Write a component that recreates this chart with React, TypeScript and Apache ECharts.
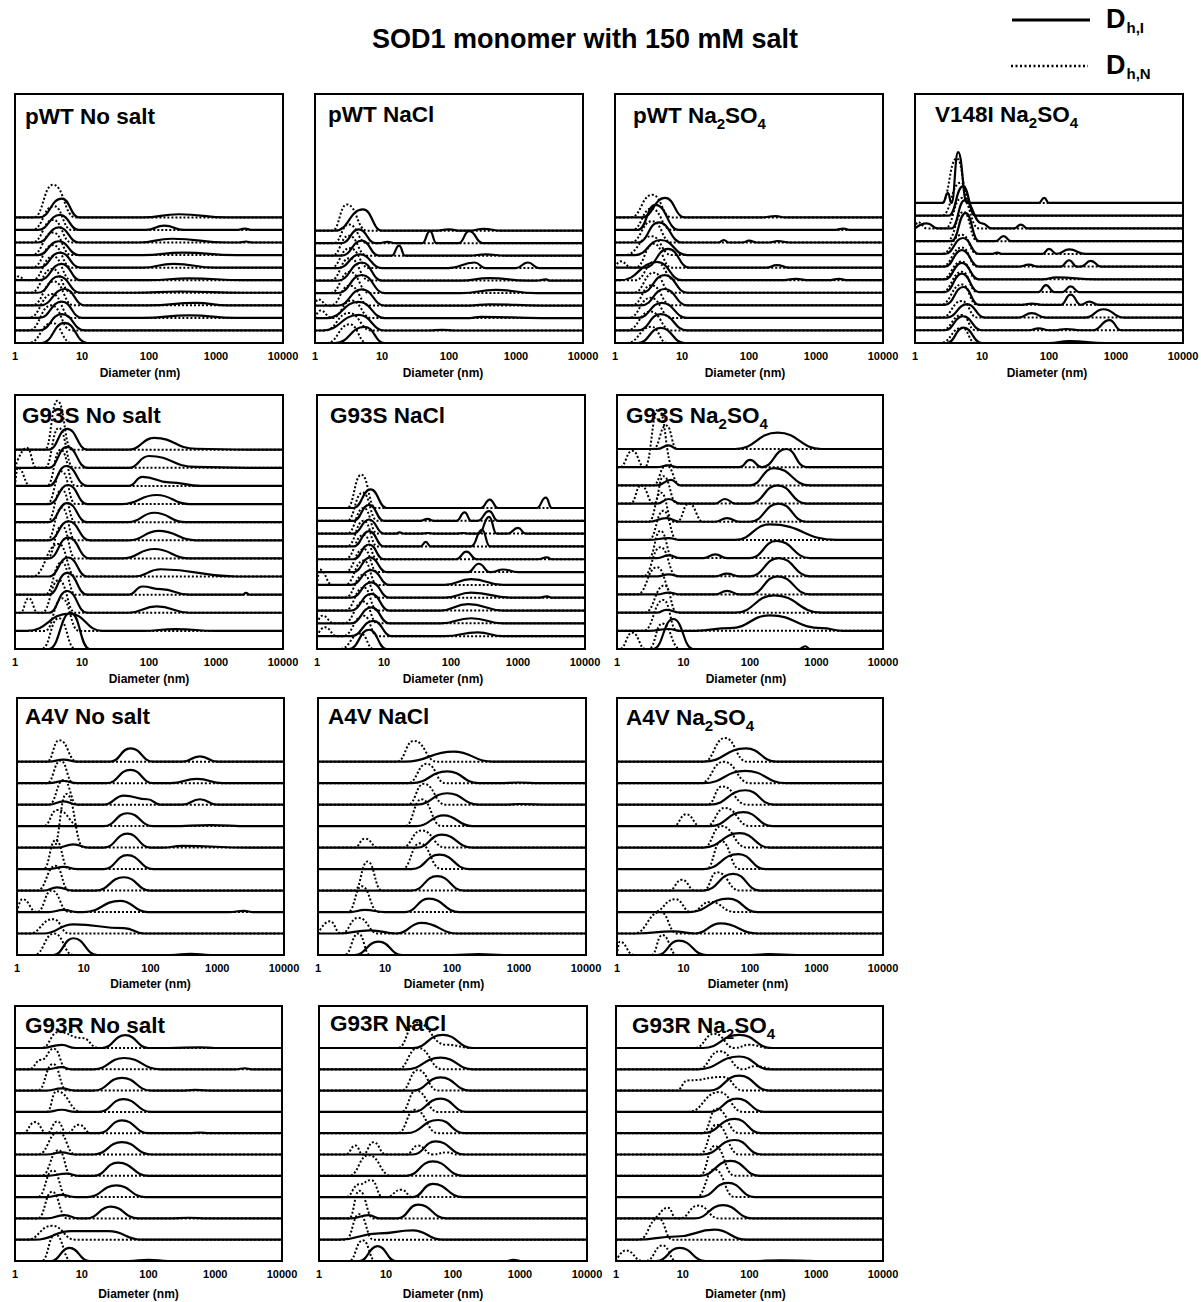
import React, { useEffect, useRef } from "react";
import * as echarts from "echarts";

// A peak is [left foot (nm), apex (nm), right foot (nm), apex height in trace spacings].
// Each panel lists its traces from the bottom trace upward.
type Peak = [number, number, number, number];
type Trace = Peak[];

const D_MIN = 1;
const D_MAX = 10000;
const tickLabels = ["1", "10", "100", "1000", "10000"];
const axisTitle = "Diameter (nm)";
const chartTitle = "SOD1 monomer with 150 mM salt";
const legendSolid = "{d|D}{s|h,I}";
const legendDotted = "{d|D}{s|h,N}";

// ---- pWT, no salt ----
const pwtNoSaltI: Trace[] = [
  [[2.5, 5.5, 12, 1.6]],
  [[2.3, 5, 11, 1.3]],
  [[2.3, 5, 10, 1.3], [80, 400, 2000, 0.2]],
  [[2.4, 5.5, 11, 1.3], [100, 500, 1500, 0.2]],
  [[2.2, 4.5, 9.5, 1.3], [60, 300, 2500, 0.1]],
  [[2.3, 5, 9.5, 1.3], [100, 400, 2500, 0.15]],
  [[2.3, 4.7, 9.5, 1.2], [80, 230, 1000, 0.3]],
  [[2.2, 4.5, 9, 1.1], [80, 320, 2000, 0.2]],
  [[2.2, 4.5, 9, 1.2], [70, 220, 1500, 0.3], [2200, 2800, 3500, 0.08]],
  [[2.2, 4.7, 9, 1.2], [90, 170, 330, 0.35], [2000, 2700, 3500, 0.1]],
  [[2.3, 5, 9, 1.5], [80, 280, 1500, 0.25]],
];
const pwtNoSaltN: Trace[] = [
  [[1.6, 3.6, 7, 1.6]],
  [[1.6, 3.5, 7, 2.0]],
  [[1.6, 3.6, 7, 1.9]],
  [[1.8, 3.8, 7.5, 1.9]],
  [[1.7, 3.6, 7, 1.9]],
  [[1, 1.1, 1.5, 0.3], [1.8, 3.7, 7, 1.9]],
  [[1.8, 3.7, 7, 1.8]],
  [[1.8, 3.7, 7, 1.8]],
  [[1.8, 3.7, 7, 1.8]],
  [[1.8, 3.8, 7, 1.9]],
  [[1.9, 3.7, 8, 2.6]],
];

// ---- pWT, NaCl ----
const pwtNaClI: Trace[] = [
  [[2, 5.5, 11, 1.3]],
  [[1.3, 4.5, 11, 1.25], [50, 80, 120, 0.05]],
  [[1.5, 4.5, 11, 1.3], [200, 300, 2500, 0.1]],
  [[2.2, 5, 11, 1.3], [200, 400, 2500, 0.1]],
  [[2.2, 5, 11, 1.45], [150, 500, 2000, 0.25]],
  [[2.2, 5, 10, 1.45], [150, 400, 1500, 0.2], [2000, 2800, 3200, 0.1]],
  [[2.2, 4.7, 10, 1.1], [100, 240, 350, 0.45], [1000, 1500, 2200, 0.45]],
  [[2.5, 5, 9, 1.2], [14, 18, 22, 0.8], [200, 350, 700, 0.1]],
  [[2.5, 4.5, 8, 1.1], [9, 12, 16, 0.1], [40, 52, 65, 0.96], [140, 200, 320, 0.96]],
  [[2, 5.2, 10, 1.7], [60, 100, 150, 0.1], [200, 330, 600, 0.15]],
];
const pwtNaClN: Trace[] = [
  [[1.5, 3.3, 6, 1.5]],
  [[1.4, 3.2, 7, 1.4]],
  [[1, 1.2, 1.8, 0.6], [1.8, 3.5, 7, 1.4]],
  [[1, 1.1, 1.6, 0.5], [1.7, 3.3, 6.5, 1.6]],
  [[1.7, 3.3, 6.5, 1.7]],
  [[1.7, 3.3, 6.5, 1.8]],
  [[1.7, 3.3, 6.5, 1.6]],
  [[1.8, 3.2, 6, 1.6]],
  [[1.9, 3.2, 6, 1.5]],
  [[1.8, 3, 6, 2.1]],
];

// ---- pWT, Na2SO4 ----
const pwtSulfI: Trace[] = [
  [[2.2, 4.8, 11, 1.2]],
  [[2.2, 4.8, 12, 1.3]],
  [[2.2, 5, 12, 1.2]],
  [[2.5, 5.5, 12, 1.3]],
  [[2.5, 5.5, 12, 1.4]],
  [[1.2, 4.3, 10, 1.45], [300, 500, 800, 0.1], [1500, 2200, 3000, 0.1]],
  [[2.8, 6.2, 13, 1.5], [180, 260, 400, 0.2]],
  [[2, 4.8, 12, 1.2]],
  [[2.2, 4.5, 10, 1.6], [35, 42, 50, 0.2], [80, 100, 130, 0.15], [200, 270, 400, 0.12]],
  [[2.2, 4, 9, 2.0], [1800, 2600, 3200, 0.1]],
  [[2.5, 5.6, 11, 1.55], [150, 250, 350, 0.1]],
];
const pwtSulfN: Trace[] = [
  [[1.5, 3.5, 6, 1.3]],
  [[1.5, 3.4, 7, 1.5]],
  [[1.6, 3.4, 7, 1.6]],
  [[1.8, 3.5, 7, 1.6]],
  [[1.9, 3.8, 7, 1.6]],
  [[2, 4, 8, 1.5]],
  [[1, 1.2, 1.8, 0.5], [2, 3.8, 7, 1.9]],
  [[1.4, 3.5, 7, 1.5]],
  [[1.7, 3.6, 7, 1.7]],
  [[1.8, 3.5, 7, 1.7]],
  [[1.7, 3.6, 7, 1.8]],
];

// ---- V148I, Na2SO4 ----
const v148iSulfI: Trace[] = [
  [[3, 5.3, 10, 1.2], [100, 200, 700, 0.15]],
  [[2.8, 5.2, 10, 1.1], [50, 70, 100, 0.15], [120, 180, 300, 0.1], [450, 800, 1200, 0.8]],
  [[3, 6, 11, 1.05], [35, 55, 90, 0.35], [350, 650, 1300, 0.65]],
  [[2.8, 5.3, 9, 1.4], [40, 55, 80, 0.1], [150, 210, 300, 0.8], [300, 400, 550, 0.25]],
  [[2.8, 5, 9, 1.45], [70, 90, 120, 0.55], [160, 210, 280, 0.45]],
  [[2.8, 5, 9, 1.3], [80, 130, 500, 0.15]],
  [[2.8, 5, 9, 1.3], [35, 50, 70, 0.15], [150, 200, 260, 0.5], [300, 420, 600, 0.45]],
  [[2.8, 5.2, 9, 1.25], [14, 17, 20, 0.1], [80, 100, 130, 0.4], [130, 200, 350, 0.35]],
  [[3.5, 5.7, 9, 2.2], [16, 21, 27, 0.4]],
  [[1, 1.5, 2.2, 0.4], [3.5, 5.5, 9, 2.2], [8, 10, 14, 0.4], [30, 38, 48, 0.3]],
  [[3.2, 5.2, 8, 2.3]],
  [[2.6, 3.1, 3.5, 0.8], [3.5, 4.4, 6, 4.0], [70, 85, 100, 0.4]],
];
const v148iSulfN: Trace[] = [
  [[2.4, 5, 8, 1.2]],
  [[2.5, 5, 8, 1.2]],
  [[2.5, 5, 8.5, 1.3]],
  [[2.4, 5, 8.5, 1.6]],
  [[2.5, 5, 8.5, 1.6]],
  [[2.5, 5, 8.5, 1.4]],
  [[2.5, 5, 8.5, 1.5]],
  [[2.5, 5, 8.5, 1.5]],
  [[3, 5.3, 8.5, 2.3]],
  [[1, 1.1, 1.5, 0.5], [2.8, 5, 9, 2.4]],
  [[2.5, 4.8, 8, 2.6]],
  [[2.5, 4.2, 6.5, 3.5]],
];

// ---- G93S, no salt ----
const g93sNoSaltI: Trace[] = [
  [[3.2, 6.8, 13, 2.0]],
  [[1.5, 6.5, 20, 0.95], [80, 250, 1000, 0.1]],
  [[3.2, 6, 12, 1.2], [50, 130, 400, 0.35]],
  [[3.2, 6, 12, 1.2], [50, 80, 110, 0.45], [100, 150, 400, 0.3], [2500, 2800, 3200, 0.1]],
  [[3.2, 6.2, 12, 1.05], [60, 150, 2000, 0.4]],
  [[3.2, 6.2, 13, 1.15], [40, 120, 400, 0.52]],
  [[3.2, 6.3, 13, 1.05], [50, 140, 500, 0.52]],
  [[3.2, 6, 12, 1.05], [50, 120, 350, 0.52]],
  [[3.2, 6.2, 12, 1.05], [40, 130, 400, 0.5]],
  [[3.2, 5.8, 12, 1.1], [50, 80, 120, 0.5], [100, 200, 600, 0.2]],
  [[3.2, 6, 12, 1.15], [50, 100, 200, 0.65], [150, 500, 3000, 0.05]],
  [[3.2, 6, 12, 1.15], [50, 120, 200, 0.65], [180, 500, 3000, 0.05]],
];
const g93sNoSaltN: Trace[] = [
  [[2.5, 4.5, 8, 1.7]],
  [[2.8, 5, 9, 1.8]],
  [[1.2, 1.6, 2.2, 0.8], [2.5, 4.5, 8, 1.8]],
  [[2.8, 5, 8, 1.8]],
  [[1.8, 4.5, 8, 1.8]],
  [[3, 5, 8, 1.8]],
  [[3, 5, 8, 1.8]],
  [[3, 5, 8, 1.8]],
  [[3, 5, 8, 1.8]],
  [[1, 1.1, 1.7, 1.0], [3, 4.8, 8, 2.0]],
  [[1, 1.5, 2.1, 1.1], [2.8, 4.5, 7.5, 2.2]],
  [[2.8, 4.3, 7, 2.7]],
];

// ---- G93S, NaCl ----
const g93sNaClI: Trace[] = [
  [[3, 6, 11, 1.5]],
  [[3.2, 7, 13, 1.2], [80, 250, 600, 0.3]],
  [[3.2, 6.5, 12, 1.25], [70, 200, 600, 0.4]],
  [[3.2, 6.5, 12, 1.3], [70, 180, 600, 0.5]],
  [[3.2, 6.5, 12, 1.2], [80, 200, 800, 0.4], [2000, 2700, 3200, 0.1]],
  [[3.2, 6.5, 12, 1.15], [80, 200, 600, 0.45]],
  [[3.5, 6.2, 11, 1.15], [180, 260, 380, 0.65], [400, 600, 1000, 0.2]],
  [[3.5, 6, 10, 1.15], [120, 170, 240, 0.6], [2000, 2700, 3200, 0.15]],
  [[3.5, 6, 10, 1.2], [35, 42, 50, 0.35], [200, 290, 380, 1.3]],
  [[3.5, 6, 10, 1.1], [15, 17, 20, 0.1], [35, 45, 55, 0.05], [120, 150, 180, 0.05], [260, 370, 480, 1.3], [700, 1000, 1300, 0.45]],
  [[3.5, 6, 10, 1.25], [35, 45, 55, 0.15], [120, 160, 200, 0.65], [250, 370, 500, 0.75]],
  [[3.5, 6.3, 11, 1.45], [280, 380, 500, 0.65], [1900, 2600, 3200, 0.8]],
];
const g93sNaClN: Trace[] = [
  [[2.2, 4.5, 7, 1.2]],
  [[1, 1.3, 2, 0.7], [2.4, 5, 8, 1.6]],
  [[1, 1.2, 1.8, 0.6], [2.5, 5, 8, 1.7]],
  [[2.6, 5, 8, 1.8]],
  [[2.6, 5, 8, 1.8]],
  [[1, 1.1, 1.7, 1.2], [2.6, 5, 8, 1.9]],
  [[2.6, 5, 8, 1.8]],
  [[2.6, 5, 8, 1.9]],
  [[2.8, 5, 8, 2.0]],
  [[2.8, 5, 8, 2.0]],
  [[2.8, 4.8, 8, 2.2]],
  [[2.8, 4.6, 7.5, 2.6]],
];

// ---- G93S, Na2SO4 ----
const g93sSulfI: Trace[] = [
  [[3.5, 7, 14, 1.65], [550, 680, 800, 0.15]],
  [[3, 6, 9, 0.1], [15, 50, 100, 0.15], [60, 200, 600, 0.85], [500, 1200, 2500, 0.15]],
  [[4, 5.5, 9, 0.15], [60, 230, 1200, 0.95]],
  [[4, 6, 9, 0.1], [30, 45, 70, 0.2], [100, 260, 800, 1.0]],
  [[4, 6, 9, 0.1], [30, 45, 70, 0.15], [100, 270, 800, 1.0]],
  [[4, 6, 9, 0.15], [20, 30, 45, 0.2], [100, 250, 800, 0.95]],
  [[3, 6, 9, 0.1], [60, 200, 2000, 0.85]],
  [[3, 5.5, 9, 0.2], [30, 45, 70, 0.2], [100, 270, 700, 1.0]],
  [[4, 6, 9, 0.25], [30, 42, 60, 0.25], [100, 260, 700, 1.0]],
  [[4, 6.5, 9, 0.3], [100, 230, 800, 0.95]],
  [[4, 6, 8, 0.1], [70, 100, 150, 0.4], [150, 350, 700, 1.0]],
  [[4, 6, 8, 0.2], [60, 260, 1200, 0.9]],
];
const g93sSulfN: Trace[] = [
  [[1.1, 1.7, 2.7, 0.9], [3, 4.8, 9, 1.4]],
  [[2.5, 5, 8, 1.7]],
  [[2.6, 5.2, 8, 1.5]],
  [[2, 4, 7, 1.5]],
  [[2.5, 4.5, 8, 1.6]],
  [[3, 4.5, 7, 1.5]],
  [[3, 5, 8, 1.6]],
  [[3, 4.6, 7, 1.6], [8, 12, 20, 1.0]],
  [[1.6, 2.3, 3.6, 1.0], [3.6, 5, 8, 1.5]],
  [[3.5, 5.5, 9, 1.1]],
  [[1.1, 1.7, 2.6, 0.9], [2.6, 4.2, 7, 3.2]],
  [[3.5, 5.5, 8, 1.3]],
];

// ---- A4V, no salt ----
const a4vNoSaltI: Trace[] = [
  [[3.5, 7, 16, 0.78], [200, 400, 800, 0.05]],
  [[2.5, 7, 25, 0.43], [20, 40, 80, 0.25]],
  [[3, 5, 8, 0.1], [10, 35, 90, 0.52], [1500, 2500, 3500, 0.05]],
  [[2.5, 4, 7, 0.15], [15, 40, 100, 0.62]],
  [[3, 5, 8, 0.1], [20, 45, 110, 0.65]],
  [[4, 7, 12, 0.15], [20, 45, 100, 0.65], [150, 300, 3000, 0.08]],
  [[20, 45, 110, 0.6], [200, 800, 3000, 0.05]],
  [[3, 5, 8, 0.15], [20, 40, 60, 0.42], [50, 90, 140, 0.25], [300, 550, 1000, 0.25]],
  [[3, 5, 8, 0.1], [22, 50, 110, 0.62], [200, 500, 1200, 0.2]],
  [[3, 5, 8, 0.1], [25, 50, 110, 0.62], [300, 550, 1000, 0.25]],
];
const a4vNoSaltN: Trace[] = [
  [[1.8, 3.6, 7, 1.0]],
  [[1.5, 3.5, 6, 0.67]],
  [[1, 1.2, 2, 0.6], [2, 3.3, 6, 1.0]],
  [[2, 3.8, 6, 1.15]],
  [[2.5, 3.8, 6, 1.35]],
  [[3.5, 5.5, 10, 2.5]],
  [[2.5, 4, 9, 0.75]],
  [[3, 5, 8, 1.15]],
  [[2.8, 4.5, 7, 1.05]],
  [[2.8, 4.3, 8, 1.0]],
];

// ---- A4V, NaCl ----
const a4vNaClI: Trace[] = [
  [[3.5, 8, 18, 0.62], [100, 250, 600, 0.04]],
  [[2, 6, 15, 0.15], [15, 35, 120, 0.5]],
  [[3, 5, 10, 0.1], [20, 45, 130, 0.62]],
  [[25, 60, 150, 0.67]],
  [[25, 65, 180, 0.67]],
  [[30, 70, 200, 0.6]],
  [[30, 75, 200, 0.5]],
  [[30, 85, 250, 0.53], [600, 1000, 3000, 0.03]],
  [[25, 85, 250, 0.55], [500, 1000, 2000, 0.03]],
  [[20, 105, 400, 0.47]],
];
const a4vNaClN: Trace[] = [
  [[2.5, 4, 6, 1.0]],
  [[1, 1.5, 2.2, 0.57], [2.2, 4, 8, 0.73]],
  [[2.8, 4.5, 8, 1.2]],
  [[3.5, 5.5, 9, 1.35]],
  [[18, 33, 70, 1.2]],
  [[3.5, 5, 8, 0.42], [18, 35, 80, 0.8]],
  [[20, 35, 70, 1.25]],
  [[22, 38, 80, 0.97]],
  [[22, 42, 80, 0.9]],
  [[15, 27, 60, 0.97]],
];

// ---- A4V, Na2SO4 ----
const a4vSulfI: Trace[] = [
  [[4, 8.5, 22, 0.67], [100, 200, 500, 0.04]],
  [[2, 7, 15, 0.1], [15, 36, 130, 0.47]],
  [[12, 47, 130, 0.62]],
  [[20, 56, 140, 0.78]],
  [[20, 67, 170, 0.7]],
  [[20, 70, 200, 0.67]],
  [[25, 80, 220, 0.65]],
  [[25, 85, 230, 0.67]],
  [[20, 85, 350, 0.57]],
  [[20, 87, 250, 0.62]],
];
const a4vSulfN: Trace[] = [
  [[1, 1.1, 1.8, 0.62], [3.3, 4.8, 8, 0.93]],
  [[1.8, 4.5, 8, 1.0]],
  [[3.5, 7.5, 13, 0.6], [13, 25, 60, 0.47]],
  [[6, 9.5, 15, 0.5], [20, 32, 70, 0.85]],
  [[22, 37, 70, 1.3]],
  [[20, 37, 90, 1.0]],
  [[7, 11, 18, 0.55], [22, 42, 100, 0.85]],
  [[23, 38, 90, 0.85]],
  [[18, 40, 100, 1.0]],
  [[20, 42, 90, 1.1]],
];

// ---- G93R, no salt ----
const g93rNoSaltI: Trace[] = [
  [[3.5, 6.5, 13, 0.62], [50, 100, 200, 0.05]],
  [[2, 7, 15, 0.4], [12, 25, 80, 0.4]],
  [[3, 5.5, 9, 0.15], [12, 27, 70, 0.55], [200, 400, 800, 0.03]],
  [[3, 5, 8, 0.1], [12, 33, 90, 0.55]],
  [[3, 6, 9, 0.1], [15, 35, 100, 0.62]],
  [[3, 5, 8, 0.1], [15, 40, 110, 0.58]],
  [[18, 40, 100, 0.6], [400, 600, 800, 0.03]],
  [[3, 5, 8, 0.1], [18, 42, 110, 0.6]],
  [[3, 5, 8, 0.1], [15, 40, 110, 0.6], [300, 500, 1000, 0.03]],
  [[3, 5, 7, 0.1], [15, 43, 150, 0.53], [2000, 2800, 3500, 0.05]],
  [[2.5, 5, 8, 0.15], [20, 45, 100, 0.6], [200, 600, 1000, 0.03]],
];
const g93rNoSaltN: Trace[] = [
  [[2.5, 4, 7, 1.25]],
  [[1.5, 3.6, 8, 0.65]],
  [[2.2, 3.6, 6, 1.25]],
  [[2.2, 3.7, 6, 1.25]],
  [[2.5, 4.5, 7, 1.2]],
  [[2.2, 4.5, 8, 1.05]],
  [[1.3, 2, 3, 0.52], [3, 4.3, 6, 0.55], [6, 9, 14, 0.4]],
  [[3, 4.2, 10, 0.97]],
  [[2.2, 3.7, 6, 1.25]],
  [[1.6, 2.5, 3, 0.45], [2.5, 3.8, 6, 0.97]],
  [[2.5, 4.5, 7, 0.75], [6, 10, 18, 0.47]],
];

// ---- G93R, NaCl ----
const g93rNaClI: Trace[] = [
  [[4, 7.5, 14, 0.7], [600, 800, 1100, 0.05]],
  [[2, 8, 15, 0.3], [12, 25, 70, 0.44]],
  [[3, 5.5, 8, 0.15], [15, 30, 80, 0.65]],
  [[25, 50, 140, 0.62]],
  [[20, 50, 140, 0.68]],
  [[25, 55, 150, 0.62]],
  [[20, 60, 150, 0.62]],
  [[25, 65, 160, 0.62]],
  [[25, 65, 180, 0.62]],
  [[20, 65, 200, 0.55]],
  [[25, 70, 200, 0.62]],
];
const g93rNaClN: Trace[] = [
  [[2.8, 4.5, 7, 0.97]],
  [[2.5, 4, 6.5, 1.2]],
  [[2.8, 4, 6.5, 1.3]],
  [[2.5, 4, 5.5, 0.6], [3.5, 6, 9, 0.8], [10, 17, 25, 0.35]],
  [[2.8, 5.5, 12, 0.97]],
  [[2.5, 3.5, 4.5, 0.42], [4.5, 6.5, 10, 0.58], [20, 30, 50, 0.42], [50, 80, 120, 0.1]],
  [[15, 27, 60, 1.1]],
  [[17, 28, 60, 1.0]],
  [[17, 30, 60, 0.97]],
  [[15, 30, 70, 1.0]],
  [[15, 28, 60, 1.2], [50, 80, 200, 0.15]],
];

// ---- G93R, Na2SO4 ----
const g93rSulfI: Trace[] = [
  [[4, 9, 22, 0.62], [100, 300, 1000, 0.03]],
  [[2, 8, 15, 0.15], [10, 30, 90, 0.47]],
  [[15, 40, 110, 0.62]],
  [[18, 48, 120, 0.67]],
  [[18, 52, 140, 0.7]],
  [[20, 60, 150, 0.68]],
  [[20, 60, 150, 0.67]],
  [[25, 65, 170, 0.62]],
  [[25, 70, 200, 0.7]],
  [[17, 70, 200, 0.6]],
  [[20, 70, 220, 0.62]],
];
const g93rSulfN: Trace[] = [
  [[1, 1.4, 2.5, 0.5], [2.8, 5, 8, 0.73]],
  [[2.2, 4.3, 7, 1.0]],
  [[3.5, 6, 8, 0.5], [9, 17, 35, 0.6]],
  [[16, 30, 60, 1.3]],
  [[18, 30, 60, 1.4]],
  [[18, 32, 70, 1.4]],
  [[20, 32, 70, 1.15]],
  [[12, 35, 80, 0.93]],
  [[8, 12, 17, 0.48], [15, 40, 80, 0.64]],
  [[17, 36, 80, 0.85], [80, 120, 250, 0.15]],
  [[15, 30, 60, 0.67], [60, 100, 200, 0.15]],
];

const panels = [
  { title: "{t|pWT No salt}", intensity: pwtNoSaltI, number: pwtNoSaltN },
  { title: "{t|pWT NaCl}", intensity: pwtNaClI, number: pwtNaClN },
  { title: "{t|pWT Na}{s|2}{t|SO}{s|4}", intensity: pwtSulfI, number: pwtSulfN },
  { title: "{t|V148I Na}{s|2}{t|SO}{s|4}", intensity: v148iSulfI, number: v148iSulfN },
  { title: "{t|G93S No salt}", intensity: g93sNoSaltI, number: g93sNoSaltN },
  { title: "{t|G93S NaCl}", intensity: g93sNaClI, number: g93sNaClN },
  { title: "{t|G93S Na}{s|2}{t|SO}{s|4}", intensity: g93sSulfI, number: g93sSulfN },
  { title: "{t|A4V No salt}", intensity: a4vNoSaltI, number: a4vNoSaltN },
  { title: "{t|A4V NaCl}", intensity: a4vNaClI, number: a4vNaClN },
  { title: "{t|A4V Na}{s|2}{t|SO}{s|4}", intensity: a4vSulfI, number: a4vSulfN },
  { title: "{t|G93R No salt}", intensity: g93rNoSaltI, number: g93rNoSaltN },
  { title: "{t|G93R NaCl}", intensity: g93rNaClI, number: g93rNaClN },
  { title: "{t|G93R Na}{s|2}{t|SO}{s|4}", intensity: g93rSulfI, number: g93rSulfN },
];

// Page layout: plot box [left, top, width, height], trace spacing (px), title corner,
// horizontal shift of the axis title and its gap below the axis.
const panelBoxes = [
  [15, 94, 268, 249], [315, 94, 268, 249], [615, 94, 268, 249], [915, 94, 268, 249],
  [15, 395, 268, 254], [317, 395, 268, 254], [617, 395, 266, 254],
  [17, 698, 267, 257], [318, 698, 268, 257], [617, 698, 266, 257],
  [15, 1006, 267, 255], [319, 1006, 268, 255], [616, 1006, 267, 255],
];
const traceSpacing = [12.56, 12.48, 12.56, 12.73, 18.12, 12.82, 18.18, 21.48, 21.48, 21.48, 21.3, 21.3, 21.3];
const titleSpots = [
  [25, 105], [328, 103], [633, 104], [935, 103],
  [22, 404], [330, 404], [626, 404],
  [25, 705], [328, 705], [626, 706],
  [25, 1014], [330, 1012], [632, 1014],
];
const nameShift = [-9, -6, -4, -2, 0, -8, -4, 0, -8, -2, -10, -10, -4];
const nameGaps = [24, 24, 24, 24, 24, 24, 24, 23, 23, 23, 27, 27, 27];

const FONT = '"Liberation Sans", Arial, Helvetica, sans-serif';

function tracePoints(peaks: Trace, base: number): [number, number][] {
  const sorted = [...peaks].sort((a, b) => a[1] - b[1]);
  const pts: [number, number][] = [[D_MIN, base]];
  sorted.forEach((p, i) => {
    const prev = sorted[i - 1];
    const next = sorted[i + 1];
    if (!prev || prev[2] <= p[0]) pts.push([Math.max(p[0], D_MIN), base]);
    pts.push([p[1], base + p[3]]);
    if (!next || p[2] <= next[0]) pts.push([Math.min(p[2], D_MAX), base]);
  });
  pts.push([D_MAX, base]);
  return pts;
}

const titleRich = {
  t: { fontSize: 22.5, fontWeight: "bold", fontFamily: FONT, color: "#000", lineHeight: 25, verticalAlign: "top" },
  s: { fontSize: 15, fontWeight: "bold", fontFamily: FONT, color: "#000", lineHeight: 16, padding: [12, 0, 0, 0], verticalAlign: "top" },
};
const legendRich = {
  d: { fontSize: 27, fontWeight: "bold", fontFamily: FONT, color: "#000", lineHeight: 29, verticalAlign: "top" },
  s: { fontSize: 15, fontWeight: "bold", fontFamily: FONT, color: "#000", lineHeight: 16, padding: [15, 0, 0, 1], verticalAlign: "top" },
};

export default function App() {
  const ref = useRef<HTMLDivElement>(null);

  useEffect(() => {
    if (!ref.current) return;
    const chart = echarts.init(ref.current, null, { renderer: "svg" });

    const grid: any[] = [];
    const xAxis: any[] = [];
    const yAxis: any[] = [];
    const series: any[] = [];
    const title: any[] = [
      {
        text: chartTitle,
        left: 372,
        top: 25,
        padding: 0,
        textStyle: { fontSize: 27, fontWeight: "bold", fontFamily: FONT, color: "#000" },
      },
      { text: legendSolid, left: 1106, top: 5, padding: 0, textStyle: { rich: legendRich } },
      { text: legendDotted, left: 1106, top: 51, padding: 0, textStyle: { rich: legendRich } },
    ];

    panels.forEach((p, i) => {
      const [left, top, width, height] = panelBoxes[i];
      grid.push({
        left, top, width, height,
        show: true,
        borderColor: "#000",
        borderWidth: 2,
        backgroundColor: "transparent",
        containLabel: false,
        outerBoundsMode: "none",
      });
      const shift = nameShift[i];
      xAxis.push({
        type: "log",
        logBase: 10,
        min: D_MIN,
        max: D_MAX,
        gridIndex: i,
        axisLine: { show: true, lineStyle: { color: "#000", width: 2 } },
        axisTick: { show: false },
        splitLine: { show: false },
        axisLabel: {
          show: true,
          margin: 7,
          fontSize: 11,
          fontWeight: "bold",
          fontFamily: FONT,
          color: "#000",
          showMinLabel: true,
          showMaxLabel: true,
          formatter: (v: number) => tickLabels[Math.round(Math.log10(v))] ?? "",
        },
        name: axisTitle,
        nameLocation: "middle",
        nameGap: nameGaps[i],
        nameTextStyle: {
          fontSize: 12,
          fontWeight: "bold",
          fontFamily: FONT,
          color: "#000",
          padding: shift < 0 ? [0, -2 * shift, 0, 0] : [0, 0, 0, 2 * shift],
        },
      });
      yAxis.push({
        type: "value",
        gridIndex: i,
        min: 0,
        max: height / traceSpacing[i],
        show: false,
      });
      title.push({
        text: p.title,
        left: titleSpots[i][0],
        top: titleSpots[i][1],
        padding: 0,
        textStyle: { rich: titleRich },
      });
      const addTrace = (trace: Trace, k: number, dotted: boolean) => {
        series.push({
          type: "line",
          xAxisIndex: i,
          yAxisIndex: i,
          data: tracePoints(trace, k),
          symbol: "none",
          showSymbol: false,
          smooth: 0.5,
          smoothMonotone: "x",
          silent: true,
          lineStyle: dotted
            ? { color: "#000", width: 2, type: [2, 2], cap: "butt" }
            : { color: "#000", width: 2.2, type: "solid" },
        });
      };
      p.intensity.forEach((tr, k) => addTrace(tr, k, false));
      p.number.forEach((tr, k) => addTrace(tr, k, true));
    });

    chart.setOption({
      animation: false,
      backgroundColor: "#fff",
      title,
      grid,
      xAxis,
      yAxis,
      series,
      graphic: [
        {
          type: "line",
          shape: { x1: 1012, y1: 20, x2: 1090, y2: 20 },
          style: { stroke: "#000", lineWidth: 3 },
          silent: true,
        },
        {
          type: "line",
          shape: { x1: 1011, y1: 66, x2: 1088, y2: 66 },
          style: { stroke: "#000", lineWidth: 2.5, lineDash: [2, 2.5] },
          silent: true,
        },
      ],
    });

    return () => chart.dispose();
  }, []);

  return (
    <div
      ref={ref}
      style={{ position: "absolute", left: 0, top: 0, width: 1201, height: 1302, background: "#fff" }}
    />
  );
}
